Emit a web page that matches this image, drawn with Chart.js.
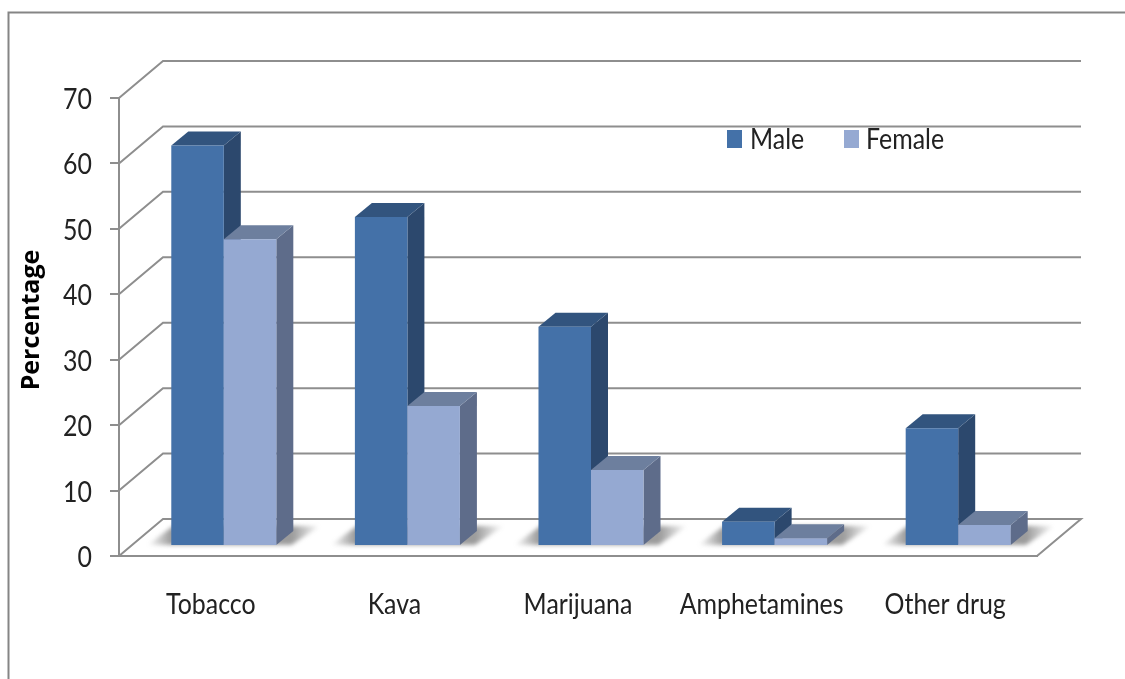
<!DOCTYPE html>
<html>
<head>
<meta charset="utf-8">
<style>
html,body{margin:0;padding:0;background:#fff;width:1125px;height:679px;overflow:hidden}
canvas{display:block}
</style>
<script src="https://cdn.jsdelivr.net/npm/chart.js@4"></script>
</head>
<body>
<canvas id="c" width="1125" height="679"></canvas>
<script>
const categories = ['Tobacco', 'Kava', 'Marijuana', 'Amphetamines', 'Other drug'];
const maleValues = [61.2, 50.3, 33.5, 3.7, 18];
const femaleValues = [46.9, 21.4, 11.6, 1.2, 3.2];
const yTicks = [0, 10, 20, 30, 40, 50, 60, 70];
const yTitle = 'Percentage';

const FONT = 'Lato, sans-serif';
const GRID = '#8e8e8e';
const TEXT_CONDENSE = 0.89;          // horizontal squeeze for upright labels
const WALL = {dx: 44, dy: -37};      // floor depth of the plot box
const PLANE = {dx: 13, dy: -10};     // plane the bars stand on
const BAR_DEPTH = {dx: 17, dy: -14};

const FACES = {
  Male: {front: '#4471a8', side: '#2c486d', top: '#32547e'},
  Female: {front: '#95a9d2', side: '#5e6c8a', top: '#6d7f9e'}
};

function poly(ctx, pts, fill) {
  ctx.beginPath();
  pts.forEach((p, i) => i ? ctx.lineTo(p[0], p[1]) : ctx.moveTo(p[0], p[1]));
  ctx.closePath();
  ctx.fillStyle = fill;
  ctx.fill();
}

// Soft contact shadows lying on the floor behind each pair of bars
function drawFloorShadows(chart) {
  const {ctx} = chart;
  const male = chart.getDatasetMeta(0).data;
  const female = chart.getDatasetMeta(1).data;
  ctx.save();
  ctx.translate(PLANE.dx, PLANE.dy);
  ctx.filter = 'blur(2px)';
  male.forEach((m, i) => {
    const f = female[i];
    const base = m.base;
    const l = m.x - m.width / 2;
    const r = f.x + f.width / 2;
    const g = ctx.createLinearGradient(l - 24, 0, r + 44, 0);
    const span = r + 44 - (l - 24);
    g.addColorStop(0, 'rgba(95,95,95,0)');
    g.addColorStop(24 / span, 'rgba(95,95,95,0.62)');
    g.addColorStop((r - l + 40) / span, 'rgba(95,95,95,0.62)');
    g.addColorStop(1, 'rgba(95,95,95,0)');
    poly(ctx, [[l - 24, base], [r + 15, base], [r + 44, base - 19], [l + 2, base - 19]], g);
  });
  ctx.restore();
}

// Side walls and back wall of the 3D box, plus the frame around the figure
const boxPlugin = {
  id: 'box',
  beforeDatasetsDraw(chart) {
    const {ctx, chartArea: a, scales: {y}} = chart;
    ctx.save();
    ctx.strokeStyle = '#858585';
    ctx.lineWidth = 2;
    ctx.beginPath();
    ctx.moveTo(8.5, 679);
    ctx.lineTo(8.5, 12.5);
    ctx.lineTo(1125, 12.5);
    ctx.stroke();
    ctx.strokeStyle = GRID;
    ctx.lineWidth = 2;
    ctx.lineJoin = 'miter';
    yTicks.forEach(v => {
      const py = y.getPixelForValue(v);
      ctx.beginPath();
      ctx.moveTo(a.left, py);
      ctx.lineTo(a.left + WALL.dx, py + WALL.dy);
      ctx.lineTo(a.right + WALL.dx, py + WALL.dy);
      if (v === 0) ctx.lineTo(a.right, py);
      ctx.stroke();
    });
    ctx.restore();
    drawFloorShadows(chart);
  }
};

function drawDepthFaces(ctx, meta, faces) {
  const {dx, dy} = BAR_DEPTH;
  meta.data.forEach(bar => {
    const l = bar.x - bar.width / 2;
    const r = bar.x + bar.width / 2;
    poly(ctx, [[r, bar.y], [r + dx, bar.y + dy], [r + dx, bar.base + dy], [r, bar.base]], faces.side);
    poly(ctx, [[l, bar.y], [l + dx, bar.y + dy], [r + dx, bar.y + dy], [r, bar.y]], faces.top);
  });
}

// Painter's order: the left bar of each pair goes down first so the right
// bar's top face can overlap its side face.
const depthPlugin = {
  id: 'depth',
  beforeDatasetDraw(chart, args) {
    if (args.index === 1) return false;   // painted after Male below
    const {ctx} = chart;
    ctx.save();
    ctx.translate(PLANE.dx, PLANE.dy);
    drawDepthFaces(ctx, args.meta, FACES.Male);
  },
  afterDatasetDraw(chart) {
    const {ctx} = chart;
    const female = chart.getDatasetMeta(1);
    drawDepthFaces(ctx, female, FACES.Female);
    female.data.forEach(bar => bar.draw(ctx));
    ctx.restore();
  }
};

// Legend inside the plot and the rotated axis title
const keyPlugin = {
  id: 'key',
  afterDraw(chart) {
    const {ctx} = chart;
    const items = [[727, 750], [844, 866]];
    ctx.save();
    ctx.font = '28px ' + FONT;
    ctx.textBaseline = 'middle';
    ctx.textAlign = 'left';
    chart.data.datasets.forEach((ds, i) => {
      ctx.fillStyle = ds.backgroundColor;
      ctx.fillRect(items[i][0], 130, 15, 18);
      ctx.fillStyle = '#222';
      ctx.fillText(ds.label, items[i][1], 138);
    });
    ctx.translate(39, 320);
    ctx.rotate(-Math.PI / 2);
    ctx.font = 'bold 25px "Open Sans", sans-serif';
    ctx.textAlign = 'center';
    ctx.textBaseline = 'alphabetic';
    ctx.fillStyle = '#000';
    ctx.fillText(yTitle, 0, 0);
    ctx.restore();
  }
};

const canvas = document.getElementById('c');
const context = canvas.getContext('2d');

// Upright labels use a slightly condensed setting of the typeface
const plainFillText = context.fillText.bind(context);
context.fillText = function (text, x, y) {
  if (this.getTransform().b !== 0) {
    plainFillText(text, x, y);
    return;
  }
  this.save();
  this.translate(x, y + 2);
  this.scale(TEXT_CONDENSE, 1);
  plainFillText(text, 0, 0);
  this.restore();
};

new Chart(canvas, {
  type: 'bar',
  data: {
    labels: categories,
    datasets: [
      {label: 'Male', data: maleValues, backgroundColor: FACES.Male.front},
      {label: 'Female', data: femaleValues, backgroundColor: FACES.Female.front}
    ]
  },
  plugins: [boxPlugin, depthPlugin, keyPlugin],
  options: {
    responsive: false,
    animation: false,
    events: [],
    layout: {padding: {left: 18, right: 88, top: 98, bottom: 0}},
    datasets: {bar: {categoryPercentage: 0.572, barPercentage: 1}},
    plugins: {legend: {display: false}, tooltip: {enabled: false}},
    scales: {
      x: {
        afterFit: s => { s.height = 123; },
        grid: {display: false},
        border: {display: true, color: GRID, width: 2},
        ticks: {color: '#222', font: {family: FONT, size: 28}, padding: 22, maxRotation: 0, autoSkip: false}
      },
      y: {
        min: 0,
        max: 70,
        afterFit: s => { s.width = 101; },
        afterBuildTicks: s => { s.ticks = yTicks.map(value => ({value})); },
        grid: {drawOnChartArea: false, color: GRID, lineWidth: 2, tickLength: 9},
        border: {color: GRID, width: 2},
        ticks: {color: '#222', font: {family: FONT, size: 28}, padding: 18}
      }
    }
  }
});
</script>
</body>
</html>
